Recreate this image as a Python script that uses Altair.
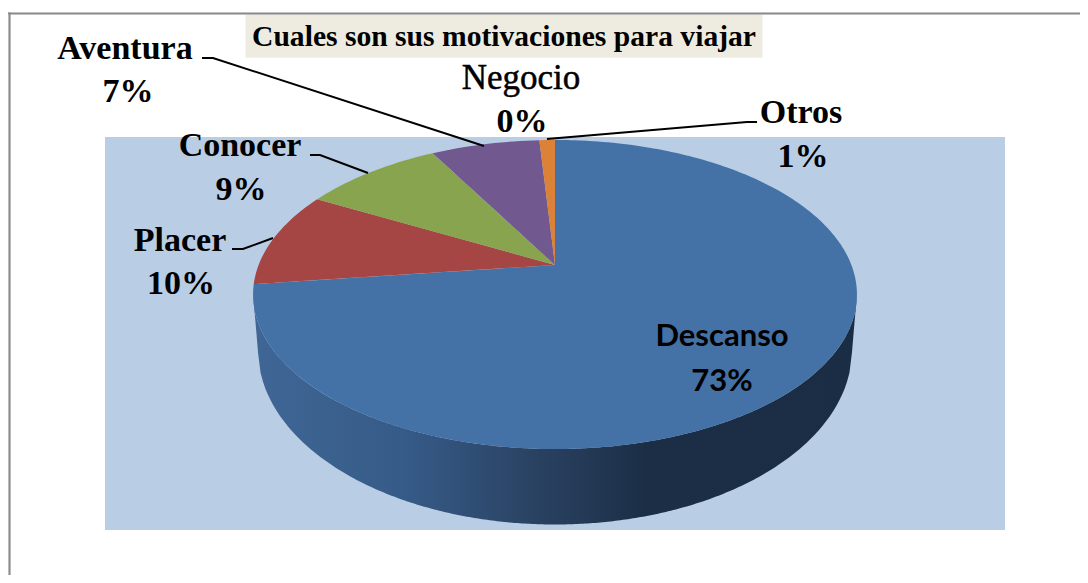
import math
import altair as alt
import pandas as pd

# ---- chart values ----
categories = ["Descanso", "Placer", "Conocer", "Aventura", "Negocio", "Otros"]
values = [73, 10, 9, 7, 0, 1]
colors = ["#4471A6", "#A64644", "#89A44E", "#71588F", "#3D96AE", "#DB8138"]
title_text = "Cuales son sus motivaciones para viajar"

# ---- layout (page pixels) ----
W, H = 1072, 567
APEX_X, APEX_Y = 555.0, 265.0
A, B, K = 296.4, 148.9, 0.191      # perspective disc
TOP_CY, TOP_RX, TOP_RY = 294.5, 302.0, 154.5   # outline of the disc
BASE_CY, BASE_RX, BASE_RY = 350.0, 297.0, 174.5  # outline of the base

label_pos = {
    "Aventura": (125, 59, 128, 102),
    "Conocer": (240, 156, 241, 200),
    "Placer": (180, 251, 181, 294),
    "Negocio": (521, 89, 522, 132),
    "Otros": (801, 123, 803, 167),
}
inner_pos = {"Descanso": (722, 346, 722, 391)}
leaders = {
    "Aventura": [(202, 58), (213, 58), (484, 146)],
    "Conocer": [(310, 155), (320, 155), (368, 173)],
    "Placer": [(232, 249), (243, 249), (273, 238)],
    "Otros": [(757, 122), (747, 122), (547, 139)],
}


def project(theta):
    u, v = math.sin(theta), -math.cos(theta)
    w = 1 - K * v
    return APEX_X + A * u / w, APEX_Y + B * v / w


def sector_rows(name, start, end):
    n = max(2, int(math.degrees(end - start) / 1.5) + 1)
    poly = [(APEX_X, APEX_Y)] + [project(start + (end - start) * i / n) for i in range(n + 1)]
    lo, hi = min(p[0] for p in poly), max(p[0] for p in poly)
    xs = set()
    for p in poly:
        for d in (-1e-3, 0, 1e-3):
            if lo <= p[0] + d <= hi:
                xs.add(p[0] + d)
    rows = []
    for x in sorted(xs):
        ys = []
        for (x0, y0), (x1, y1) in zip(poly, poly[1:] + poly[:1]):
            if min(x0, x1) <= x <= max(x0, x1):
                if x0 == x1:
                    ys += [y0, y1]
                else:
                    ys.append(y0 + (y1 - y0) * (x - x0) / (x1 - x0))
        if ys:
            rows.append({"name": name, "x": x, "y": min(ys), "y2": max(ys)})
    return rows


total = sum(values)
slices, acc = [], 0.0
for name, val in zip(categories, values):
    t0 = 2 * math.pi * acc / total
    acc += val
    t1 = 2 * math.pi * acc / total
    if val > 0:
        slices += sector_rows(name, t0, t1)
slices_df = pd.DataFrame(slices)

# side wall
wall = []
x_left, x_right = APEX_X - TOP_RX, APEX_X + TOP_RX
N = 240
for i in range(N + 1):
    x = x_left + (x_right - x_left) * i / N
    dx = x - APEX_X
    top = TOP_CY + TOP_RY * math.sqrt(max(0, 1 - (dx / TOP_RX) ** 2))
    if abs(dx) <= BASE_RX:
        bot = BASE_CY + BASE_RY * math.sqrt(max(0, 1 - (dx / BASE_RX) ** 2))
    else:
        bot = TOP_CY + (BASE_CY - TOP_CY) * (TOP_RX - abs(dx)) / (TOP_RX - BASE_RX)
    wall.append({"x": x, "y": top, "y2": bot})
wall_df = pd.DataFrame(wall)

xs = alt.Scale(domain=[8, 8 + W], range=[0, W], nice=False, zero=False)
ys = alt.Scale(domain=[8, 8 + H], range=[0, H], nice=False, zero=False)
X = lambda f: alt.X(f, type="quantitative", scale=xs, axis=None)
Y = lambda f: alt.Y(f, type="quantitative", scale=ys, axis=None, stack=None)


def rect(x0, x1, y0, y1, color):
    d = pd.DataFrame([{"x": x0, "x2": x1, "y": y0, "y2": y1}])
    return alt.Chart(d).mark_rect(color=color, opacity=1).encode(
        x=X("x"), x2="x2", y=Y("y"), y2="y2")


frame_top = rect(8, 8 + W, 12.6, 14.6, "#888888")
frame_left = rect(8.4, 10.6, 12.6, 8 + H, "#8c8c8c")
plot_bg = rect(105, 1005, 137, 530, "#B9CDE5")
title_bg = rect(245.5, 762.5, 14.6, 57.7, "#EEECE1")

wall_gradient = alt.Gradient(
    gradient="linear",
    x1=0, x2=1, y1=0, y2=0,
    stops=[
        alt.GradientStop(offset=0, color="#3F6695"),
        alt.GradientStop(offset=0.25, color="#365B88"),
        alt.GradientStop(offset=0.46, color="#2A4363"),
        alt.GradientStop(offset=0.65, color="#1C2E46"),
        alt.GradientStop(offset=1, color="#1B2D44"),
    ],
)
wall_layer = alt.Chart(wall_df).mark_area(color=wall_gradient, opacity=1).encode(
    x=X("x"), y=Y("y"), y2="y2")

color_scale = alt.Scale(domain=categories, range=colors)
slice_layer = alt.Chart(slices_df).mark_area(opacity=1).encode(
    x=X("x"), y=Y("y"), y2="y2",
    color=alt.Color("name:N", scale=color_scale, legend=None),
)

lead_rows = []
for name, pts in leaders.items():
    for i, (x, y) in enumerate(pts):
        lead_rows.append({"name": name, "i": i, "x": x, "y": y})
lead_layer = alt.Chart(pd.DataFrame(lead_rows)).mark_line(color="black", strokeWidth=2).encode(
    x=X("x"), y=Y("y"), detail="name:N", order="i:Q")


def label_rows(pos):
    rows = []
    for name, (x0, y0, x1, y1) in pos.items():
        val = values[categories.index(name)]
        rows.append({"t": name, "x": x0, "y": y0, "kind": name})
        rows.append({"t": f"{val}%", "x": x1, "y": y1, "kind": name})
    return pd.DataFrame(rows)


outer = label_rows({k: v for k, v in label_pos.items() if k != "Negocio"})
outer_layer = alt.Chart(outer).mark_text(
    font="Liberation Serif", fontSize=34, fontWeight="bold", color="black",
    align="center", baseline="alphabetic",
).encode(x=X("x"), y=Y("y"), text="t:N")

neg = label_rows({"Negocio": label_pos["Negocio"]})
neg_name = alt.Chart(neg.iloc[[0]]).mark_text(
    font="Liberation Serif", fontSize=35, color="black", stroke="black", strokeWidth=0.5,
    align="center", baseline="alphabetic",
).encode(x=X("x"), y=Y("y"), text="t:N")
neg_val = alt.Chart(neg.iloc[[1]]).mark_text(
    font="Liberation Serif", fontSize=34, fontWeight="bold", color="black",
    align="center", baseline="alphabetic",
).encode(x=X("x"), y=Y("y"), text="t:N")

inner_layer = alt.Chart(label_rows(inner_pos)).mark_text(
    font="Lato", fontSize=31, fontWeight="bold", color="black",
    align="center", baseline="alphabetic",
).encode(x=X("x"), y=Y("y"), text="t:N")

title_layer = alt.Chart(pd.DataFrame([{"t": title_text, "x": 504, "y": 46}])).mark_text(
    font="Liberation Serif", fontSize=29.6, fontWeight="bold", color="black",
    align="center", baseline="alphabetic",
).encode(x=X("x"), y=Y("y"), text="t:N")

chart = alt.layer(
    plot_bg, title_bg, frame_top, frame_left, wall_layer, slice_layer, lead_layer,
    outer_layer, neg_name, neg_val, inner_layer, title_layer,
).properties(
    width=W, height=H, padding=0, background="white"
).configure_view(stroke=None)

chart.save("out.html", embed_options={"renderer": "svg", "actions": False})
